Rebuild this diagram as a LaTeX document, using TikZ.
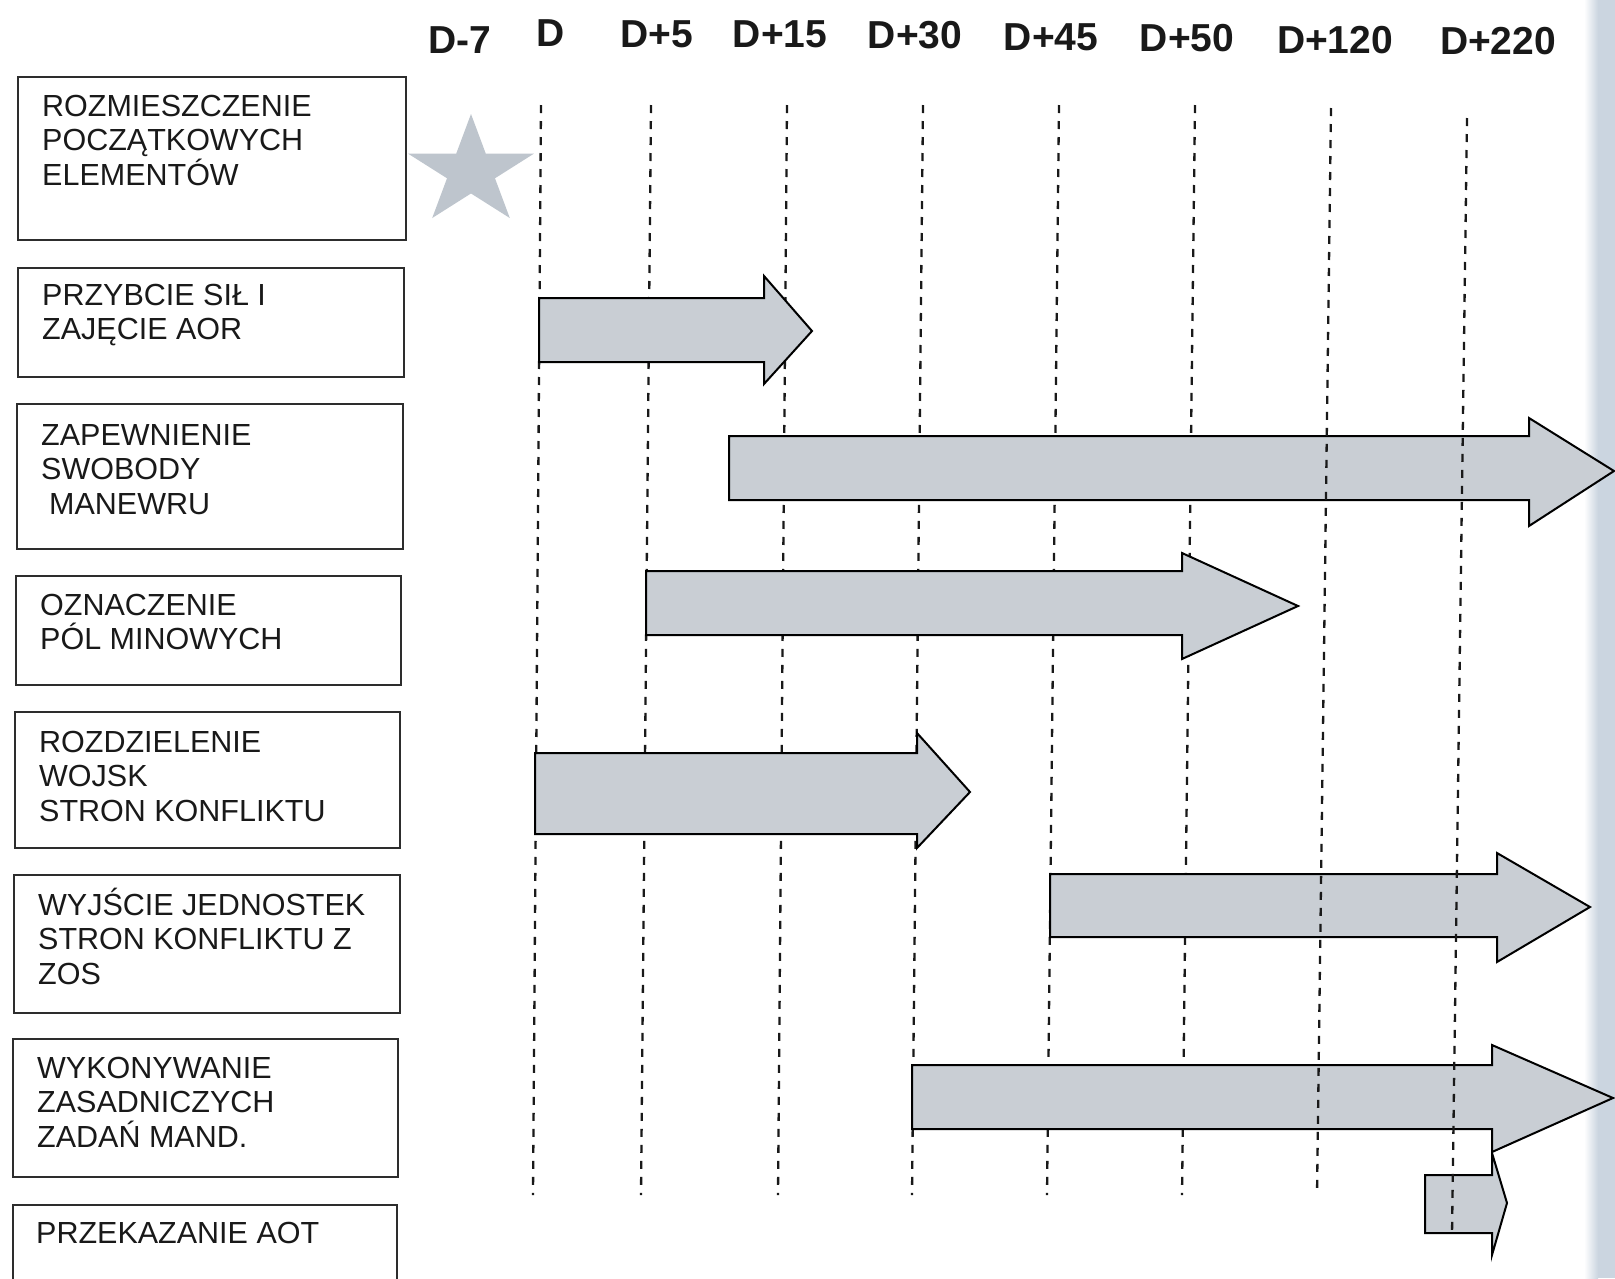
\documentclass[tikz,border=0pt]{standalone}
\usepackage{fontspec}
\setmainfont{Liberation Sans}
\definecolor{arrowgray}{RGB}{201,206,212}
\definecolor{stargray}{RGB}{190,197,205}
\definecolor{boxline}{RGB}{45,45,45}
\definecolor{inkcol}{RGB}{25,25,25}
\definecolor{stripblue}{RGB}{203,213,224}
\newcommand\garrow[8]{\draw[arrowshape] (#1,#2) -- (#4,#2) -- (#4,#5) -- (#7,#8) -- (#4,#6) -- (#4,#3) -- (#1,#3) -- cycle;}
\begin{document}
\begin{tikzpicture}[x=1pt,y=-1pt,
  taskbox/.style={draw=boxline, line width=1.8pt, fill=white, anchor=north west, inner sep=0pt},
  tasktext/.style={anchor=north west, inner sep=0pt, align=left, text=inkcol,
    font=\fontsize{30.5}{34.5}\selectfont},
  daylabel/.style={anchor=base, inner sep=0pt, text=inkcol, font=\fontsize{39}{43}\selectfont\bfseries},
  dashline/.style={draw=inkcol, line width=2.3pt, dash pattern=on 8pt off 8pt},
  arrowshape/.style={draw=black, line width=2pt, fill=arrowgray, line join=miter}]
\useasboundingbox (0,0) rectangle (1615,1278);
\clip (0,0) rectangle (1615,1278);
\fill[white] (0,0) rectangle (1615,1278);
% scanner edge strip
\shade[left color=white, right color=stripblue] (1584,0) rectangle (1598,1278);
\fill[stripblue] (1598,0) rectangle (1615,1278);

% header labels
\node[daylabel] (dm7)  at (460,53)   {D-7};
\node[daylabel] (d0)   at (551,46.5) {D};
\node[daylabel] (d5)   at (657,47)   {D+5};
\node[daylabel] (d15)  at (780,47.5) {D+15};
\node[daylabel] (d30)  at (915,48.5) {D+30};
\node[daylabel] (d45)  at (1051,50.5) {D+45};
\node[daylabel] (d50)  at (1187,51.5) {D+50};
\node[daylabel] (d120) at (1335,53.5) {D+120};
\node[daylabel] (d220) at (1498,54)   {D+220};

% dashed day lines (behind arrows)
\draw[dashline] (541,105) -- (533,1195);
\draw[dashline] (651,105) -- (641,1195);
\draw[dashline] (787,105) -- (778,1195);
\draw[dashline] (923,105) -- (912,1195);
\draw[dashline] (1059,105) -- (1047,1195);
\draw[dashline] (1195,105) -- (1182,1195);

% task boxes
\node[taskbox, minimum width=388pt, minimum height=163pt] (b1) at (17,76) {};
\node[taskbox, minimum width=386pt, minimum height=109pt] (b2) at (17,267) {};
\node[taskbox, minimum width=386pt, minimum height=145pt] (b3) at (16,403) {};
\node[taskbox, minimum width=385pt, minimum height=109pt] (b4) at (15,575) {};
\node[taskbox, minimum width=385pt, minimum height=136pt] (b5) at (14,711) {};
\node[taskbox, minimum width=386pt, minimum height=138pt] (b6) at (13,874) {};
\node[taskbox, minimum width=385pt, minimum height=138pt] (b7) at (12,1038) {};
\node[taskbox, minimum width=384pt, minimum height=110pt] (b8) at (12,1204) {};

% task texts
\node[tasktext] (t1) at (42,86)   {\rule{0pt}{30pt}ROZMIESZCZENIE\\POCZĄTKOWYCH\\ELEMENTÓW};
\node[tasktext] (t2) at (42,275)  {\rule{0pt}{30pt}PRZYBCIE SIŁ I\\ZAJĘCIE AOR};
\node[tasktext] (t3) at (41,415)  {\rule{0pt}{30pt}ZAPEWNIENIE\\SWOBODY\\\hspace*{8pt}MANEWRU};
\node[tasktext] (t4) at (40,585)  {\rule{0pt}{30pt}OZNACZENIE\\PÓL MINOWYCH};
\node[tasktext] (t5) at (39,722)  {\rule{0pt}{30pt}ROZDZIELENIE\\WOJSK\\STRON KONFLIKTU};
\node[tasktext] (t6) at (38,885)  {\rule{0pt}{30pt}WYJŚCIE JEDNOSTEK\\STRON KONFLIKTU Z\\ZOS};
\node[tasktext] (t7) at (37,1048) {\rule{0pt}{30pt}WYKONYWANIE\\ZASADNICZYCH\\ZADAŃ MAND.};
\node[tasktext] (t8) at (36,1213) {\rule{0pt}{30pt}PRZEKAZANIE AOT};

% star
\fill[stargray, shift={(471,171.5)}, xscale=66, yscale=57.5]
  (-90:1) -- (-54:0.382) -- (-18:1) -- (18:0.382) -- (54:1) -- (90:0.382)
  -- (126:1) -- (162:0.382) -- (198:1) -- (234:0.382) -- cycle;

% arrows
\garrow{539}{298}{362}{764}{276}{384}{812}{331}
\garrow{729}{436}{500}{1529}{418}{526}{1614}{471}
\garrow{646}{571}{635}{1182}{553}{659}{1298}{606}
\garrow{535}{753}{834}{917}{733}{848}{970}{792}
\garrow{1050}{874}{937}{1497}{853}{962}{1590}{907}
\garrow{912}{1065}{1129}{1492}{1045}{1152}{1613}{1098}
\garrow{1425}{1175}{1233}{1492}{1153}{1255}{1507}{1203}

% dashed day lines drawn over arrows
\draw[dashline] (1331,108) -- (1317,1195);
\draw[dashline] (1467,118) -- (1452,1235);
\end{tikzpicture}
\end{document}
